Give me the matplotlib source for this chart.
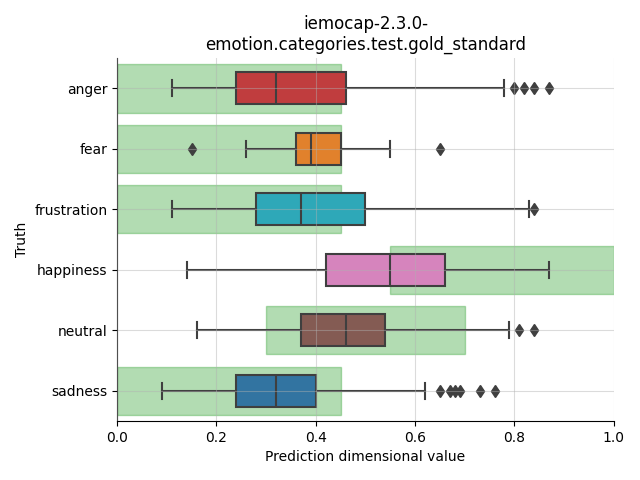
"""iemocap emotion categories: boxplots of predicted dimensional values per truth class."""

import matplotlib.pyplot as plt

categories = ["anger", "fear", "frustration", "happiness", "neutral", "sadness"]

# box statistics
whislo = [0.11, 0.26, 0.11, 0.14, 0.16, 0.09]
q1 = [0.24, 0.36, 0.28, 0.42, 0.37, 0.24]
med = [0.32, 0.39, 0.37, 0.55, 0.46, 0.32]
q3 = [0.46, 0.45, 0.50, 0.66, 0.54, 0.40]
whishi = [0.78, 0.55, 0.83, 0.87, 0.79, 0.62]
fliers = [
    [0.80, 0.82, 0.84, 0.87],
    [0.15, 0.65],
    [0.84],
    [],
    [0.81, 0.84],
    [0.65, 0.67, 0.68, 0.69, 0.73, 0.76],
]

# expected ranges (green bands) per category
range_lo = [0.0, 0.0, 0.0, 0.55, 0.30, 0.0]
range_hi = [0.45, 0.45, 0.45, 1.00, 0.70, 0.45]

box_colors = ["#c03d3e", "#e1812c", "#2ea8b8", "#d684bd", "#845b53", "#3274a1"]

fig = plt.figure(figsize=(6.4, 4.8), dpi=100)
ax = fig.add_axes([0.183, 0.123, 0.776, 0.756])

pos = list(range(len(categories)))

# green bands
ax.barh(
    pos,
    [h - l for l, h in zip(range_lo, range_hi)],
    left=range_lo,
    height=0.8,
    color="tab:green",
    alpha=0.36,
    edgecolor="tab:green",
    linewidth=1,
    zorder=1,
)

stats = []
for i, cat in enumerate(categories):
    stats.append(
        dict(
            label=cat,
            whislo=whislo[i],
            q1=q1[i],
            med=med[i],
            q3=q3[i],
            whishi=whishi[i],
            fliers=fliers[i],
        )
    )

line_c = "#3f3f3f"
bp = ax.bxp(
    stats,
    positions=pos,
    widths=0.53,
    capwidths=0.265,
    vert=False,
    patch_artist=True,
    boxprops=dict(edgecolor=line_c, linewidth=1.5),
    medianprops=dict(color=line_c, linewidth=1.5),
    whiskerprops=dict(color=line_c, linewidth=1.5),
    capprops=dict(color=line_c, linewidth=1.5),
    flierprops=dict(marker="d", markerfacecolor=line_c, markeredgecolor=line_c, markersize=6),
    zorder=2,
)
for patch, c in zip(bp["boxes"], box_colors):
    patch.set_facecolor(c)

ax.set_xlim(0, 1)
ax.set_ylim(len(categories) - 0.5, -0.5)
ax.set_yticks(pos)
ax.set_yticklabels(categories)
ax.set_axisbelow(False)
ax.grid(True, alpha=0.45, zorder=5)
ax.spines["top"].set_visible(False)
ax.spines["right"].set_visible(False)

ax.set_title("iemocap-2.3.0-\nemotion.categories.test.gold_standard")
ax.set_xlabel("Prediction dimensional value")
ax.set_ylabel("Truth")

plt.savefig("out.png")
plt.close()
